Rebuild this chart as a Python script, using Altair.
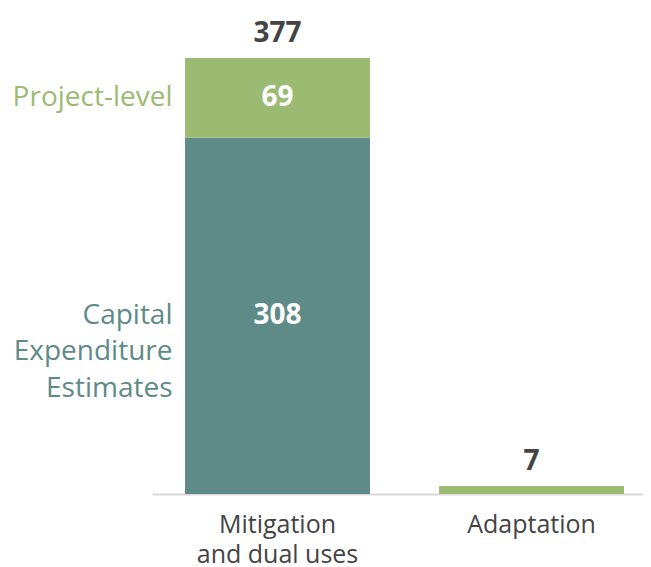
import altair as alt
import pandas as pd

# ---- data ----
categories = ["Mitigation and dual uses", "Mitigation and dual uses", "Adaptation"]
segments = ["Capital Expenditure Estimates", "Project-level", "Adaptation"]
values = [308, 69, 7]
side_labels = ["Capital|Expenditure|Estimates", "Project-level", ""]
category_order = ["Mitigation and dual uses", "Adaptation"]

TEAL = "#5e8a87"
GREEN = "#9bbb73"
seg_colors = [TEAL, GREEN, GREEN]

df = pd.DataFrame({
    "category": categories,
    "segment": segments,
    "value": values,
    "side": side_labels,
    "color": seg_colors,
})
df["y1"] = df.groupby("category")["value"].cumsum()
df["y0"] = df["y1"] - df["value"]
df["mid"] = (df["y0"] + df["y1"]) / 2

totals = df.groupby("category", sort=False)["value"].sum().reset_index()
totals.columns = ["category", "total"]
ymax = float(totals["total"].max())

FONT = "Open Sans"

x = alt.X(
    "category:N",
    sort=category_order,
    scale=alt.Scale(paddingInner=0.272, paddingOuter=0.1024, align=0.635),
    axis=alt.Axis(
        title=None,
        labelAngle=0,
        labelFont=FONT,
        labelFontSize=25,
        labelColor="#444444",
        labelLineHeight=30,
        labelPadding=18,
        ticks=False,
        domainColor="#d9d9d9",
        domainWidth=2,
        grid=False,
        labelExpr="datum.label == 'Mitigation and dual uses' ? ['Mitigation', 'and dual uses'] : datum.label",
    ),
)
yscale = alt.Scale(domain=[0, ymax], nice=False, zero=True)

bars = alt.Chart(df).mark_bar().encode(
    x=x,
    y=alt.Y("y0:Q", scale=yscale, axis=None),
    y2="y1:Q",
    color=alt.Color("color:N", scale=None),
)

inside = alt.Chart(df).transform_filter("datum.side != ''").mark_text(
    font=FONT, fontSize=28, fontWeight="bold", color="white", baseline="middle"
).encode(
    x=alt.X("category:N", sort=category_order),
    y=alt.Y("mid:Q", scale=yscale),
    text="value:Q",
)

side = alt.Chart(df).transform_filter("datum.side != ''").transform_calculate(
    lines="split(datum.side, '|')"
).mark_text(
    font=FONT, fontSize=28, align="right", baseline="middle", dx=-105, lineHeight=36.5
).encode(
    x=alt.X("category:N", sort=category_order),
    y=alt.Y("mid:Q", scale=yscale),
    text="lines:N",
    color=alt.Color("color:N", scale=None),
)

tot = alt.Chart(totals).mark_text(
    font=FONT, fontSize=28, fontWeight="bold", color="#444444", baseline="alphabetic", dy=-16
).encode(
    x=alt.X("category:N", sort=category_order),
    y=alt.Y("total:Q", scale=yscale),
    text="total:Q",
)

chart = alt.layer(bars, inside, side, tot).properties(
    width=491,
    height=436,
    autosize="none",
    padding={"left": 144, "top": 50, "right": 0, "bottom": 73},
).configure_view(stroke=None)

chart.save("out.html", embed_options={"renderer": "svg", "actions": False})
